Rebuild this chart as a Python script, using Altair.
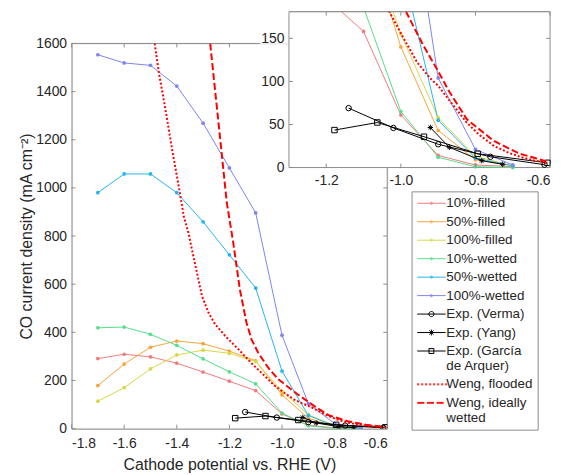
import altair as alt
import pandas as pd

# ------------------------------------------------------------------ data
potentials = [-1.7, -1.6, -1.5, -1.4, -1.3, -1.2, -1.1, -1.0, -0.9, -0.8, -0.7]
filled_10 = [291, 309, 298, 272, 235, 197, 158, 61, 14, 3, 1]
filled_50 = [179, 268, 338, 364, 353, 322, 282, 140, 43, 9, 2]
filled_100 = [114, 170, 248, 306, 326, 313, 279, 155, 58, 13, 2]
wetted_10 = [419, 422, 392, 346, 290, 236, 186, 65, 12, 1, 0]
wetted_50 = [980, 1058, 1058, 980, 859, 722, 584, 239, 55, 11, 2]
wetted_100 = [1553, 1519, 1509, 1423, 1269, 1083, 896, 388, 104, 21, 3]

verma_x = [-1.14, -1.02, -0.90, -0.76, -0.615]
verma_y = [69, 46, 27, 12.5, 3.3]
yang_x = [-0.921, -0.870, -0.783, -0.727]
yang_y = [46.5, 23.5, 8, 3.8]
garcia_x = [-1.178, -1.063, -0.938, -0.794, -0.607]
garcia_y = [43.5, 52.3, 35.8, 16, 5.5]

flooded_x = [-1.484, -1.468, -1.442, -1.417, -1.392, -1.373, -1.355, -1.342, -1.323,
             -1.304, -1.279, -1.254, -1.216, -1.166, -1.116, -1.065, -1.031, -0.99,
             -0.956, -0.92, -0.9, -0.87, -0.823, -0.79, -0.75, -0.71, -0.677, -0.64, -0.605]
flooded_y = [1600, 1478, 1320, 1155, 1003, 880, 811, 742, 646,
             550, 481, 433, 385, 330, 272, 218, 181, 148,
             122, 103, 95, 78, 52, 38, 25, 17, 12, 8, 5]
wetted_x = [-1.273, -1.25, -1.229, -1.21, -1.185, -1.16, -1.135, -1.116, -1.091,
            -1.053, -1.015, -0.978, -0.94, -0.903, -0.87, -0.823, -0.78, -0.751,
            -0.71, -0.681, -0.64, -0.609]
wetted_y = [1600, 1360, 1140, 940, 770, 577, 440, 371, 316,
            254, 206, 174, 142, 114, 88, 56, 41, 31,
            22, 16, 11, 7]

x_ticks = [-1.8, -1.6, -1.4, -1.2, -1.0, -0.8, -0.6]
y_ticks = [0, 200, 400, 600, 800, 1000, 1200, 1400, 1600]
inset_x_ticks = [-1.2, -1.0, -0.8, -0.6]
inset_y_ticks = [0, 50, 100, 150]

colored_names = ["10%-filled", "50%-filled", "100%-filled", "10%-wetted", "50%-wetted", "100%-wetted"]
colored_values = [filled_10, filled_50, filled_100, wetted_10, wetted_50, wetted_100]
colored_colors = ["#F27C7C", "#F7A43A", "#D7D846", "#56DE8A", "#22B4EF", "#7E84F2"]

legend_names = colored_names + ["Exp. (Verma)", "Exp. (Yang)", "Exp. (García de Arquer)",
                                "Weng, flooded", "Weng, ideally wetted"]
legend_colors = colored_colors + ["#000000", "#000000", "#000000", "#FF0000", "#FF0000"]

# ------------------------------------------------------------------ tables
colored_df = pd.concat([
    pd.DataFrame({"x": potentials, "y": v, "series": n, "col": c})
    for n, v, c in zip(colored_names, colored_values, colored_colors)
], ignore_index=True)

ASTERISK = "M0,-1L0,1M-1,0L1,0M-0.7,-0.7L0.7,0.7M-0.7,0.7L0.7,-0.7"
black_df = pd.concat([
    pd.DataFrame({"x": verma_x, "y": verma_y, "series": "Exp. (Verma)", "shp": "circle"}),
    pd.DataFrame({"x": yang_x, "y": yang_y, "series": "Exp. (Yang)", "shp": ASTERISK}),
    pd.DataFrame({"x": garcia_x, "y": garcia_y, "series": "Exp. (García de Arquer)", "shp": "square"}),
], ignore_index=True)

flooded_df = pd.DataFrame({"x": flooded_x, "y": flooded_y})
wetted_df = pd.DataFrame({"x": wetted_x, "y": wetted_y})

first_x = [potentials[0]] * 6 + [verma_x[0], yang_x[0], garcia_x[0], flooded_x[0], wetted_x[0]]
first_y = [v[0] for v in colored_values] + [verma_y[0], yang_y[0], garcia_y[0], flooded_y[0], wetted_y[0]]
legend_df = pd.DataFrame({"x": first_x, "y": first_y, "series": legend_names})

# ------------------------------------------------------------------ legend symbols (style only)
def hline(a, b, th=0.0):
    if th == 0:
        return f"M{a:.3f},0L{b:.3f},0"
    return f"M{a:.3f},{-th:.3f}L{b:.3f},{-th:.3f}M{a:.3f},{th:.3f}L{b:.3f},{th:.3f}"


def circ(r):
    return f"M{-r},0A{r},{r},0,1,0,{r},0A{r},{r},0,1,0,{-r},0"


HALF = 2.2
line_part = hline(-HALF, HALF)
sym_colored = line_part + circ(0.17)
sym_verma = line_part + circ(0.4)
sym_yang = line_part + "M0,-0.45L0,0.45M-0.45,0L0.45,0M-0.32,-0.32L0.32,0.32M-0.32,0.32L0.32,-0.32"
sym_garcia = line_part + "M-0.38,-0.38L0.38,-0.38L0.38,0.38L-0.38,0.38Z"
dots = "".join(hline(-HALF + i * 0.62, -HALF + i * 0.62 + 0.3, 0.07) for i in range(8))
dashes = "".join(hline(-HALF + i * 1.5, min(-HALF + i * 1.5 + 1.1, HALF), 0.07) for i in range(3))
legend_shapes = [sym_colored] * 6 + [sym_verma, sym_yang, sym_garcia, dots, dashes]

# ------------------------------------------------------------------ style / layout
FONT = "Liberation Sans"
AX = "#8c8c8c"
TXT = "#262626"
MAIN_W, MAIN_H = 318, 388
IN_X0, IN_X1 = 219, 482      # inset box, in main-plot pixel coordinates
IN_Y0, IN_Y1 = -32, 125
TICK = 4
neg_fmt = "(datum.value < 0 ? '-' : '') + format(abs(datum.value), '.1f')"
one = pd.DataFrame({"a": [0]})


def series_layers(X, Y, clip, xmin=None):
    def ch(df):
        c = alt.Chart(df)
        if xmin is not None:
            c = c.transform_filter(alt.datum.x >= xmin)
        return c
    out = []
    out.append(ch(colored_df).mark_line(strokeWidth=1, clip=clip).encode(
        x=X("x"), y=Y("y"), color=alt.Color("col:N", scale=None), detail="series:N"))
    out.append(ch(colored_df).mark_point(filled=True, size=14, opacity=1, clip=clip).encode(
        x=X("x"), y=Y("y"), color=alt.Color("col:N", scale=None)))
    out.append(ch(black_df).mark_line(color="black", strokeWidth=1, clip=clip).encode(
        x=X("x"), y=Y("y"), detail="series:N"))
    out.append(ch(black_df).mark_point(color="black", filled=False, size=30,
                                       strokeWidth=1, opacity=1, clip=clip).encode(
        x=X("x"), y=Y("y"), shape=alt.Shape("shp:N", scale=None)))
    out.append(ch(flooded_df).mark_line(color="#FF0000", strokeWidth=2,
                                        strokeDash=[2, 2], clip=clip).encode(x=X("x"), y=Y("y")))
    out.append(ch(wetted_df).mark_line(color="#FF0000", strokeWidth=2,
                                       strokeDash=[7, 3], clip=clip).encode(x=X("x"), y=Y("y")))
    return out


def tick_rules(X, Y, xt, yt, x0, x1, y0, y1, top_max=None, right_max=None, right_min=None):
    xt_df = pd.DataFrame({"v": xt})
    yt_df = pd.DataFrame({"v": yt})
    top_df = xt_df if top_max is None else xt_df[xt_df.v <= top_max]
    r_df = yt_df
    if right_max is not None:
        r_df = r_df[(r_df.v <= right_max) & (r_df.v > right_min)]
    rule = dict(color=AX, strokeWidth=1)
    return [
        alt.Chart(xt_df).mark_rule(**rule).encode(x=X("v"), y=alt.value(y1), y2=alt.value(y1 - TICK)),
        alt.Chart(top_df).mark_rule(**rule).encode(x=X("v"), y=alt.value(y0), y2=alt.value(y0 + TICK)),
        alt.Chart(yt_df).mark_rule(**rule).encode(y=Y("v"), x=alt.value(x0), x2=alt.value(x0 + TICK)),
        alt.Chart(r_df).mark_rule(**rule).encode(y=Y("v"), x=alt.value(x1), x2=alt.value(x1 - TICK)),
    ]


# ------------------------------------------------------------------ main panel
main_xs = alt.Scale(domain=[-1.8, -0.6], nice=False, zero=False)
main_ys = alt.Scale(domain=[0, 1600], nice=False, zero=False)
main_xaxis = alt.Axis(values=x_ticks, labelExpr=neg_fmt, title="Cathode potential vs. RHE (V)",
                      orient="bottom", tickSize=0, grid=False, domain=True, domainColor=AX,
                      labelPadding=8, titlePadding=6, labelFontSize=14, titleFontSize=16,
                      labelColor=TXT, titleColor=TXT, titleFontWeight="normal",
                      labelFont=FONT, titleFont=FONT)
main_yaxis = alt.Axis(values=y_ticks, format="d", title="CO current density (mA cm\u207b\u00b2)",
                      orient="left", tickSize=0, grid=False, domain=True, domainColor=AX,
                      labelPadding=5, titlePadding=1, labelFontSize=14, titleFontSize=16,
                      labelColor=TXT, titleColor=TXT, titleFontWeight="normal",
                      labelFont=FONT, titleFont=FONT)
MX = lambda f: alt.X(f, type="quantitative", scale=main_xs, axis=main_xaxis)
MY = lambda f: alt.Y(f, type="quantitative", scale=main_ys, axis=main_yaxis)

lg = alt.Legend(
    title=None, orient="none", legendX=342.5, legendY=149,
    labelFont=FONT, labelFontSize=13.5, labelColor=TXT,
    strokeColor=AX, fillColor="white", padding=5, rowPadding=4.6,
    symbolSize=169, symbolOffset=8, labelOffset=8, symbolStrokeWidth=1,
    symbolOpacity=1, labelLimit=200,
    labelExpr=("datum.label == 'Exp. (García de Arquer)' ? ['Exp. (García', '\u00a0de Arquer)'] : "
               "datum.label == 'Weng, ideally wetted' ? ['Weng, ideally', '\u00a0wetted'] : datum.label"),
)

main_layers = [
    # partial top / right frame (the inset covers the rest)
    alt.Chart(one).mark_rule(color=AX, strokeWidth=1).encode(
        x=alt.value(0), x2=alt.value(190), y=alt.value(0)),
    alt.Chart(one).mark_rule(color=AX, strokeWidth=1).encode(
        x=alt.value(MAIN_W), y=alt.value(IN_Y1), y2=alt.value(MAIN_H)),
]
main_layers += tick_rules(MX, MY, x_ticks, y_ticks, 0, MAIN_W, 0, MAIN_H,
                          top_max=-1.15, right_max=1050, right_min=0)
main_layers += series_layers(MX, MY, True)
main_layers.append(alt.Chart(legend_df).mark_point(opacity=0, filled=False).encode(
    x=MX("x"), y=MY("y"),
    color=alt.Color("series:N", scale=alt.Scale(domain=legend_names, range=legend_colors), legend=lg),
    shape=alt.Shape("series:N", scale=alt.Scale(domain=legend_names, range=legend_shapes), legend=lg),
))
main = alt.layer(*main_layers)

# ------------------------------------------------------------------ inset panel (same view)
in_xs = alt.Scale(domain=[-1.3, -0.6], nice=False, zero=False, range=[IN_X0, IN_X1])
in_ys = alt.Scale(domain=[0, 181], nice=False, zero=False, range=[IN_Y1, IN_Y0])
in_xaxis = alt.Axis(values=inset_x_ticks, labelExpr=neg_fmt, title=None, orient="bottom",
                    offset=-(MAIN_H - IN_Y1), tickSize=0, grid=False, domain=False,
                    labelPadding=6, labelFontSize=14, labelColor=TXT, labelFont=FONT)
in_yaxis = alt.Axis(values=inset_y_ticks, format="d", title=None, orient="left",
                    offset=-IN_X0, tickSize=0, grid=False, domain=False,
                    labelPadding=5, labelFontSize=14, labelColor=TXT, labelFont=FONT)
IX = lambda f: alt.X(f, type="quantitative", scale=in_xs, axis=in_xaxis)
IY = lambda f: alt.Y(f, type="quantitative", scale=in_ys, axis=in_yaxis)

inset_layers = [
    alt.Chart(one).mark_rect(fill="white", stroke=AX, strokeWidth=1).encode(
        x=alt.value(IN_X0), x2=alt.value(IN_X1), y=alt.value(IN_Y0), y2=alt.value(IN_Y1)),
]
inset_layers += series_layers(IX, IY, False, xmin=-1.3)
inset_layers += tick_rules(IX, IY, inset_x_ticks, inset_y_ticks, IN_X0, IN_X1, IN_Y0, IN_Y1)
# white strip above the inset box: hides line parts that leave the inset at its top
inset_layers.append(alt.Chart(one).mark_rect(fill="white", stroke=None).encode(
    x=alt.value(IN_X0 - 40), x2=alt.value(IN_X1 + 20), y=alt.value(IN_Y0 - 60), y2=alt.value(IN_Y0 - 0.5)))
inset_layers.append(alt.Chart(one).mark_rule(color=AX, strokeWidth=1).encode(
    x=alt.value(IN_X0), x2=alt.value(IN_X1), y=alt.value(IN_Y0)))
inset = alt.layer(*inset_layers)

chart = alt.layer(main, inset).resolve_scale(
    x="independent", y="independent"
).properties(
    width=MAIN_W, height=MAIN_H,
    autosize=alt.AutoSizeParams(type="none"),
    padding={"left": 64, "top": 34, "right": 172, "bottom": 45},
).configure_view(stroke=None).configure(font=FONT)

chart.save("out.html", embed_options={"renderer": "svg", "actions": False})
